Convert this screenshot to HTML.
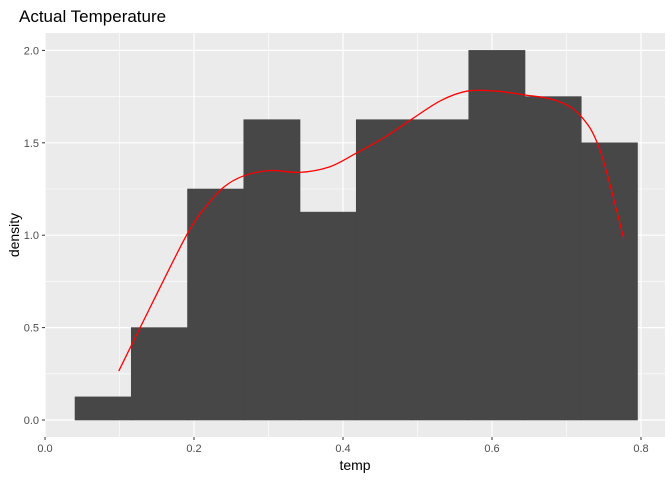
<!DOCTYPE html>
<html><head><meta charset="utf-8"><style>
body{margin:0;background:#fff;font-family:"Liberation Sans",sans-serif}
</style></head><body>
<svg id="chart" width="672" height="480" xmlns="http://www.w3.org/2000/svg">
<text x="19" y="22" font-size="17" fill="#000">Actual Temperature</text>
<rect x="45" y="33" width="620" height="404" fill="#EBEBEB"/>
<g id="grid"></g><g id="bars"></g><g id="curve"></g><g id="axes"></g>
<text x="355" y="470" font-size="14" text-anchor="middle" fill="#000">temp</text>
<text transform="translate(19,235) rotate(-90)" font-size="14" text-anchor="middle" fill="#000">density</text>
</svg>
<script>
const binStarts=[0.0403,0.1158,0.1913,0.2668,0.3423,0.4178,0.4933,0.5688,0.6443,0.7198];
const binWidth=0.0755;
const densities=[0.125,0.5,1.25,1.625,1.125,1.625,1.625,2.0,1.75,1.5];
const curveX=[0.099,0.14,0.19,0.215,0.24,0.266,0.302,0.342,0.382,0.416,0.456,0.493,0.532,0.567,0.605,0.642,0.685,0.718,0.745,0.777];
const curveY=[0.265,0.6,1.0,1.15,1.26,1.32,1.35,1.34,1.37,1.44,1.53,1.63,1.73,1.78,1.78,1.76,1.73,1.65,1.46,0.98];
const xTicks=[0,0.2,0.4,0.6,0.8];
const xTickLabels=["0.0","0.2","0.4","0.6","0.8"];
const yTicks=[0,0.5,1,1.5,2];
const yTickLabels=["0.0","0.5","1.0","1.5","2.0"];
const NS="http://www.w3.org/2000/svg";
const xs=v=>45+v*745, ys=v=>420-v*184.8;
function mk(t,a,p){const e=document.createElementNS(NS,t);for(const k in a)e.setAttribute(k,a[k]);p.appendChild(e);return e;}
const grid=document.getElementById('grid');
[0.1,0.3,0.5,0.7].forEach(v=>{const l=mk('line',{x1:xs(v),x2:xs(v),y1:33,y2:437,stroke:'#fff','stroke-width':0.6},grid);

});
[0.25,0.75,1.25,1.75].forEach(v=>{const l=mk('line',{x1:45,x2:665,y1:ys(v),y2:ys(v),stroke:'#fff','stroke-width':0.6},grid);

});
xTicks.forEach(v=>{const l=mk('line',{x1:xs(v),x2:xs(v),y1:33,y2:437,stroke:'#fff','stroke-width':1.2},grid);

});
yTicks.forEach(v=>{const l=mk('line',{x1:45,x2:665,y1:ys(v),y2:ys(v),stroke:'#fff','stroke-width':1.2},grid);

});
const bars=document.getElementById('bars');
binStarts.forEach((s,i)=>{const r=mk('rect',{x:xs(s),y:ys(densities[i]),width:xs(s+binWidth)-xs(s),height:ys(0)-ys(densities[i]),fill:'#474747',stroke:'#474747','stroke-width':0.6},bars);

});
const pts=curveX.map((x,i)=>[xs(x),ys(curveY[i])]);
let d='M'+pts[0].join(',');
for(let i=0;i<pts.length-1;i++){const p0=pts[i-1]||pts[i],p1=pts[i],p2=pts[i+1],p3=pts[i+2]||p2;
d+=` C${p1[0]+(p2[0]-p0[0])/6},${p1[1]+(p2[1]-p0[1])/6} ${p2[0]-(p3[0]-p1[0])/6},${p2[1]-(p3[1]-p1[1])/6} ${p2[0]},${p2[1]}`;}
const c=mk('path',{d:d,fill:'none',stroke:'#FF0000','stroke-width':1.3},document.getElementById('curve'));


const ax=document.getElementById('axes');
xTicks.forEach((v,i)=>{mk('line',{x1:xs(v),x2:xs(v),y1:437,y2:440,stroke:'#333'},ax);
const t=mk('text',{x:xs(v),y:452,'font-size':11,'text-anchor':'middle',fill:'#4D4D4D'},ax);t.textContent=xTickLabels[i];

});
yTicks.forEach((v,i)=>{mk('line',{x1:42,x2:45,y1:ys(v),y2:ys(v),stroke:'#333'},ax);
const t=mk('text',{x:39,y:ys(v)+4,'font-size':11,'text-anchor':'end',fill:'#4D4D4D'},ax);t.textContent=yTickLabels[i];

});
</script>
</body></html>
